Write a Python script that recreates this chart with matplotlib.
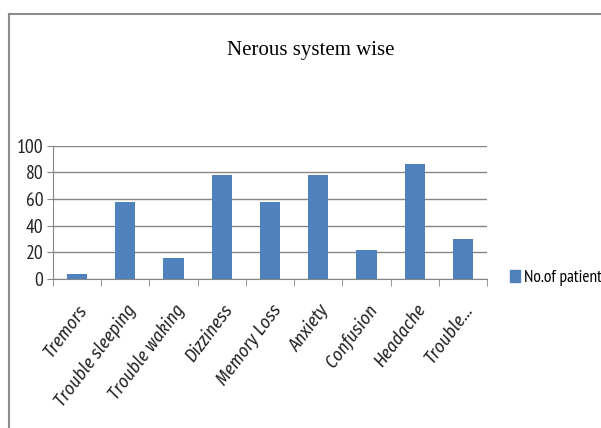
import matplotlib.pyplot as plt
from matplotlib.lines import Line2D
from matplotlib.patches import Patch
from matplotlib.transforms import ScaledTranslation

categories = ['Tremors', 'Trouble sleeping', 'Trouble waking', 'Dizziness',
              'Memory Loss', 'Anxiety', 'Confusion', 'Headache', 'Trouble...']
patients = [4, 58, 16, 78, 58, 78, 22, 86, 30]
y_ticks = [0, 20, 40, 60, 80, 100]

bar_color = '#4F81BD'
grid_color = '#868686'
narrow = ['PT Sans Narrow', 'DejaVu Sans']
narrow_it = ['Fira Sans Condensed', 'DejaVu Sans']

fig = plt.figure(figsize=(6.01, 4.28), dpi=100)

# outer chart frame (only left and top visible in the reference)
fig.add_artist(Line2D([8.5 / 601, 8.5 / 601], [0, 1 - 14 / 428],
                      transform=fig.transFigure, color='#8c8c8c', lw=1.5))
fig.add_artist(Line2D([8.5 / 601, 1], [1 - 14 / 428, 1 - 14 / 428],
                      transform=fig.transFigure, color='#8c8c8c', lw=1.5))

ax = fig.add_axes([53 / 601, 1 - 279 / 428, 434 / 601, 133.3 / 428])
x = list(range(len(categories)))
ax.bar(x, patients, width=0.42, color=bar_color, zorder=3)

ax.set_xlim(-0.5, len(categories) - 0.5)
ax.set_ylim(0, 100)
ax.set_yticks(y_ticks)
ax.set_yticklabels([str(v) for v in y_ticks], family=narrow, fontsize=14,
                   color='#222222')
ax.yaxis.grid(True, color=grid_color, lw=1, zorder=0)
ax.tick_params(axis='y', length=4, color=grid_color, pad=3)

ax.set_xticks(x)
ax.set_xticklabels(categories, family=narrow_it, style='italic', fontsize=13,
                   rotation=53, ha='right', rotation_mode='anchor', color='#222222')
ax.tick_params(axis='x', which='major', length=0, pad=16)
ax.set_xticks([i - 0.5 for i in range(len(categories) + 1)], minor=True)
ax.tick_params(axis='x', which='minor', length=5, color=grid_color)
shift = ScaledTranslation(0, 0, fig.dpi_scale_trans)
for lab in ax.get_xticklabels():
    lab.set_transform(lab.get_transform() + shift)

for side in ['top', 'right']:
    ax.spines[side].set_visible(False)
ax.spines['left'].set_color(grid_color)
ax.spines['bottom'].set_color(grid_color)

fig.text(311 / 601, 1 - 50 / 428, 'Nerous system wise', family='Liberation Serif',
         fontsize=15, ha='center', va='center')

fig.legend(handles=[Patch(color=bar_color, label='No.of patient')],
           loc='center left', bbox_to_anchor=(510 / 601, 1 - 278 / 428),
           frameon=False, borderpad=0, borderaxespad=0,
           handlelength=0.55, handleheight=0.7, handletextpad=0.25,
           prop={'family': narrow, 'size': 12.5})

fig.savefig('out.png', dpi=100)
